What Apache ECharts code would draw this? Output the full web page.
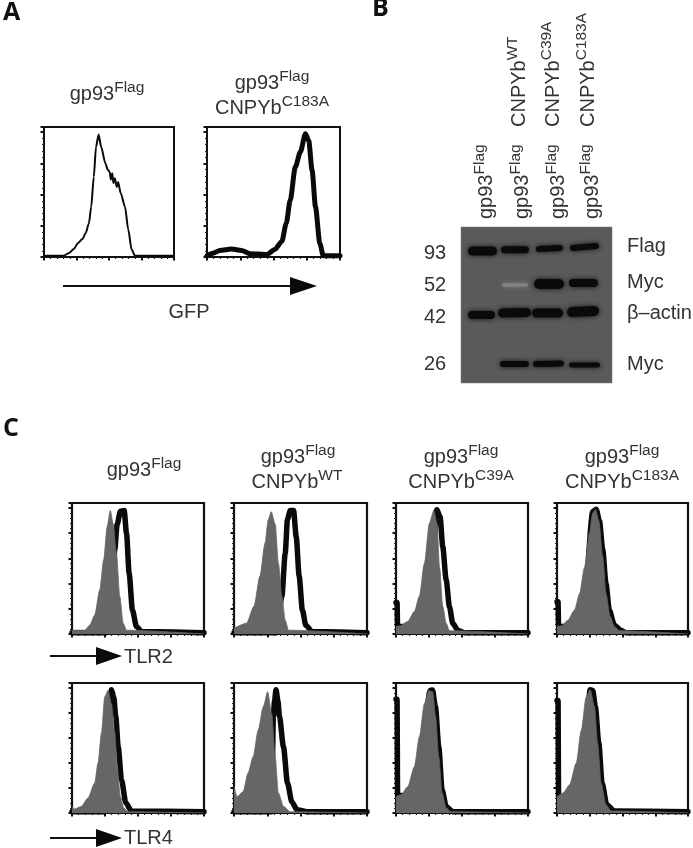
<!DOCTYPE html>
<html><head><meta charset="utf-8">
<style>html,body{margin:0;padding:0;background:#fff}#c{width:693px;height:848px;filter:blur(.45px)}</style>
<script src="https://cdn.jsdelivr.net/npm/echarts@6/dist/echarts.min.js"></script></head>
<body><div id="c"></div>
<script>
// Panel A histograms: [x, y] in axis units
const aPlain = [[0,1],[15,1],[19,3],[23,6.4],[26,11],[29.6,14.4],[32,19],[34.6,27],[36.3,40.3],[38.3,64],[40,88],[42,98],[44,88],[47.2,75],[49,70],[50.5,68],[51.5,62],[52.5,67],[53.4,59],[54.5,63],[56,56],[57,60],[59,51],[62.3,40.3],[64.8,22],[67.4,6],[70,1],[100,1]];
const aMutant = [[0,1],[4.5,3],[9.6,5.3],[18.4,6.4],[26,5.3],[32.3,2.7],[45,2],[51,6],[56.3,12.5],[59.6,27],[62.6,45.6],[66.4,72],[70.2,84],[74,98.7],[76.5,93],[79,69.5],[81.6,40],[84.8,11],[87.4,1],[100,1]];
// Panel C, TLR2 row
const tlr2GrayFlag = [[0,3],[9.6,3],[13.4,7],[17.2,15],[21,35],[24,59],[26.6,85],[29,98],[31.1,88],[33.7,64],[36.2,29.7],[38.8,8.5],[41.3,3],[100,0]];
const tlr2BlackFlag = [[0,1],[26,1],[29.9,19],[32.4,67],[34.2,87],[36.7,97.4],[39.5,98],[41.3,80],[43.3,48],[45.8,19],[48.8,6],[52.6,2],[100,1]];
const tlr2GrayWT = [[0,4.5],[9.4,8.5],[15,22],[19.5,46],[23.3,72],[25.8,91],[28,97],[31,87],[33.4,56],[36,30],[38.5,11],[41,3],[100,0]];
const tlr2BlackWT = [[0,1],[32,1],[36,30],[38.5,64],[40.2,91],[42.3,98],[44.8,98],[46.8,77],[49,46],[51.4,19],[54,7],[58.7,2],[100,1]];
const tlr2GrayC39A = [[0,6],[3,6.4],[8.9,10],[14,18],[17.7,30],[21.5,56],[25.3,88],[28.6,98],[31,88],[33,53],[35.4,22],[38,8.5],[40.5,2.6],[100,0]];
const tlr2BlackC39A = [[0,25],[0.8,25],[1.2,6],[25.3,6],[31,98.7],[33.4,93],[35.4,69.5],[38,43],[40.5,21.7],[43,8.5],[46.8,3],[51.9,1],[100,1]];
const tlr2GrayC183A = [[0,6],[3.3,6.4],[8.3,11],[13.4,19],[17.2,32],[21,53],[24.8,80],[27.3,96],[29.3,98.7],[31.9,90],[34.9,61.5],[37.4,32],[40.5,14],[43.8,6],[47.6,2.6],[100,0]];
const tlr2BlackC183A = [[0,25.7],[0.8,25.7],[1.2,6],[19.7,6],[27.3,97],[29.9,99],[32.4,90],[34.9,67],[37.4,40],[39.9,19],[43.8,7],[48.8,3],[52.6,1],[100,1]];
// Panel C, TLR4 row
const tlr4GrayFlag = [[0,5.3],[2,3.2],[7,5.3],[12.1,12],[17.2,24],[19.7,40],[22.3,64],[24.8,93],[27.3,98],[29.9,87.5],[32.4,64],[34.2,37],[36.7,13],[39.2,4],[42.5,1],[100,0]];
const tlr4BlackFlag = [[0,1],[24.8,1],[29.9,98.7],[31.6,93],[33.2,77],[35,53],[37.5,26.5],[40.8,8],[45,1.6],[100,1]];
const tlr4GrayWT = [[0,21],[2.3,13],[6.8,17],[10.6,32],[14.4,45],[18.2,66.3],[22,85],[25.3,97],[28.3,79.6],[30.9,45],[33.4,16],[37.2,5.3],[42.3,1],[100,0]];
const tlr4BlackWT = [[0,1],[28.3,1],[29.6,77],[30.5,90],[31.6,98.7],[33,90],[34.2,77],[37.2,53],[40.2,24],[43.5,9],[47.3,2.6],[55,1],[100,1]];
const tlr4GrayC39A = [[0,13],[3.8,14.6],[8.9,21],[13.9,37],[17.7,61],[21.5,87.5],[24.8,98],[27.8,97],[29.9,77.6],[32.4,45],[34.9,16],[38,4],[41.7,1],[100,0]];
const tlr4BlackC39A = [[0,91],[0.8,91],[1.2,14],[18,14],[25.8,98],[27.6,98.5],[29.9,85],[32.4,53],[34.9,18.6],[38,5.3],[43,1],[100,1]];
const tlr4GrayC183A = [[0,13],[4.6,16],[9.6,22.5],[14.7,40],[18.5,66],[22.3,93],[25.3,98.7],[28.6,85],[31,56],[33.7,24],[37.4,6.6],[41.2,1.6],[100,0]];
const tlr4BlackC183A = [[0,90],[0.8,90],[1.2,13],[19.7,13],[25.3,98.7],[27.3,98],[29.3,85],[31.9,56],[34.4,24],[38,6.6],[43.8,1.6],[100,1]];
// Blot bands: xStart, yStart, xEnd, yEnd, thickness, intensity
const bandsFlag = [[7,24,36,24,9,1],[40,22.7,68,22.7,7,1],[75,22,102,21,6,1],[109,21,138,19,6,1]];
const bandsMyc52 = [[41,58,67,58,3.5,.22],[73,57,103,57,10,1],[108,56,137,56,8,1]];
const bandsActin = [[7,88,34,88,8,1],[37,86,70,85.5,9,1],[71,86,102,86,9,1],[106,85,138,84,10,1]];
const bandsMyc26 = [[39,137,68,137,6,1],[72,137,103,136.5,6,1],[108,138,139,138,5,1]];
// Labels
const blotMarkers = ['93','52','42','26'];
const blotTargets = ['Flag','Myc','β–actin','Myc'];

const FONT = '"Liberation Sans", Arial, sans-serif';
const TXT = '#333';
const chart = echarts.init(document.getElementById('c'), null, {renderer:'canvas'});
const grids=[], xAxes=[], yAxes=[], series=[];
function addGrid(box, yInterval, extra){
  const i = grids.length;
  grids.push(Object.assign({left:box[0],top:box[1],width:box[2],height:box[3],show:true,borderColor:'#111',borderWidth:box[4],backgroundColor:'#fff'},extra||{}));
  xAxes.push({type:'value',gridIndex:i,min:0,max:100,interval:25,axisLine:{show:false},splitLine:{show:false},axisLabel:{show:false},
    axisTick:{show:true,length:3.5,lineStyle:{color:'#111',width:2}},minorTick:{show:true,length:2,splitNumber:5,lineStyle:{color:'#222',width:1.2}},minorSplitLine:{show:false}});
  yAxes.push({type:'value',gridIndex:i,min:0,max:104,interval:yInterval,axisLine:{show:false},splitLine:{show:false},axisLabel:{show:false},
    axisTick:{show:true,length:3.5,lineStyle:{color:'#111',width:2}},minorTick:{show:true,length:2,splitNumber:5,lineStyle:{color:'#222',width:1.2}},minorSplitLine:{show:false}});
  return i;
}
function lineS(i,data,width){
  series.push({type:'line',xAxisIndex:i,yAxisIndex:i,data,symbol:'none',smooth:.25,smoothMonotone:'x',clip:true,
    lineStyle:{color:'#0a0a0a',width,cap:'round',join:'round'},z:3});
}
function areaS(i,data){
  series.push({type:'line',xAxisIndex:i,yAxisIndex:i,data,symbol:'none',smooth:.25,smoothMonotone:'x',clip:true,
    lineStyle:{color:'#666',width:.8},areaStyle:{color:'#666',opacity:1},z:4});
}
// Panel A
lineS(addGrid([44,127,130,130,2],25),aPlain,2);
lineS(addGrid([207,127,133,130,2],25),aMutant,5);
// Panel C
const cols=[[72,132],[234,133],[396,132],[557,131]];
const rows=[[503,131],[683,130]];
const curves=[[tlr2BlackFlag,tlr2GrayFlag],[tlr2BlackWT,tlr2GrayWT],[tlr2BlackC39A,tlr2GrayC39A],[tlr2BlackC183A,tlr2GrayC183A],
              [tlr4BlackFlag,tlr4GrayFlag],[tlr4BlackWT,tlr4GrayWT],[tlr4BlackC39A,tlr4GrayC39A],[tlr4BlackC183A,tlr4GrayC183A]];
curves.forEach((c,n)=>{
  const col=cols[n%4], row=rows[n<4?0:1];
  const i=addGrid([col[0],row[0],col[1],row[1],2.2],20);
  lineS(i,c[0],5.5); areaS(i,c[1]);
});
// Panel B blot
const bI=grids.length;
grids.push({left:461,top:227,width:151,height:156,show:true,backgroundColor:'#5a5a5a',borderColor:'#777',borderWidth:.5});
xAxes.push({type:'value',gridIndex:bI,min:0,max:151,show:false});
yAxes.push({type:'value',gridIndex:bI,min:0,max:156,inverse:true,show:false});
series.push({type:'custom',xAxisIndex:bI,yAxisIndex:bI,clip:true,z:3,
  data:[].concat(bandsFlag,bandsMyc52,bandsActin,bandsMyc26),
  encode:{x:[0,2],y:[1,3]},
  renderItem(params,api){
    const a=api.coord([api.value(0),api.value(1)]), b=api.coord([api.value(2),api.value(3)]);
    const th=api.size([0,api.value(4)])[1], v=api.value(5);
    const col=v<1?'rgb(130,130,130)':'rgb(10,10,10)';
    return {type:'line',shape:{x1:a[0]+th/2,y1:a[1],x2:b[0]-th/2,y2:b[1]},
      style:{stroke:col,lineWidth:th,lineCap:'round',shadowBlur:v<1?5:5,shadowColor:v<1?'rgba(140,140,140,.8)':'rgba(10,10,10,.9)'}};
  }});

// Text
const SZ=20, SUP=15.5;
const rich={n:{fontSize:SZ,fontFamily:FONT,fill:TXT,lineHeight:24,verticalAlign:'bottom'},s:{fontSize:SUP,fontFamily:FONT,fill:TXT,lineHeight:24,verticalAlign:'top'}};
function lab(base,sup,x,y,extra){
  return Object.assign({type:'text',x,y,z:20,style:{text:`{n|${base}}{s|${sup}}`,rich,align:'center',verticalAlign:'middle'}},extra||{});
}
function vlab(base,sup,x,y){
  return {type:'text',x,y,rotation:Math.PI/2,z:20,style:{text:`{n|${base}}{s|${sup}}`,rich,align:'left',verticalAlign:'middle'}};
}
function txt(t,x,y,align,size){
  return {type:'text',x,y,z:20,style:{text:t,fontSize:size||SZ,fontFamily:FONT,fill:TXT,align:align||'center',verticalAlign:'middle'}};
}
function letter(t,x,y){
  return {type:'text',x,y,z:20,style:{text:t,fontSize:25,fontWeight:700,fontFamily:'"Open Sans","Noto Sans",sans-serif',fill:'#111',align:'left',verticalAlign:'middle'}};
}
function arrow(x1,x2,x3,y,h,w){
  return [{type:'line',z:20,shape:{x1,y1:y,x2,y2:y},style:{stroke:'#111',lineWidth:w}},
          {type:'polygon',z:20,shape:{points:[[x2,y-h],[x3,y],[x2,y+h]]},style:{fill:'#0a0a0a'}}];
}
const g=[
 letter('A',3,13),letter('B',372,9),letter('C',3,429),
 lab('gp93','Flag',107,92),
 lab('gp93','Flag',272,81),lab('CNPYb','C183A',272,106),
 txt('GFP',189,312),
 ...arrow(63,290,317,286,9,2),
 lab('gp93','Flag',144,468),
 lab('gp93','Flag',298,455),lab('CNPYb','WT',297,480),
 lab('gp93','Flag',461,455),lab('CNPYb','C39A',461,480),
 lab('gp93','Flag',622,455),lab('CNPYb','C183A',622,480),
 ...arrow(50,96,122,656,9,2),txt('TLR2',124,657,'left'),
 ...arrow(50,96,122,838,9,2),txt('TLR4',124,838,'left'),
 vlab('gp93','Flag',484,219),
 vlab('gp93','Flag',520,219),vlab('CNPYb','WT',517,127),
 vlab('gp93','Flag',556,219),vlab('CNPYb','C39A',551,127),
 vlab('gp93','Flag',590,219),vlab('CNPYb','C183A',586,127),
];
[253,285,317,364].forEach((y,i)=>g.push(txt(blotMarkers[i],435,y)));
[246,282,313,364].forEach((y,i)=>g.push(txt(blotTargets[i],627,y,'left')));

chart.setOption({animation:false,backgroundColor:'#fff',grid:grids,xAxis:xAxes,yAxis:yAxes,series,graphic:{elements:g}});
</script></body></html>
